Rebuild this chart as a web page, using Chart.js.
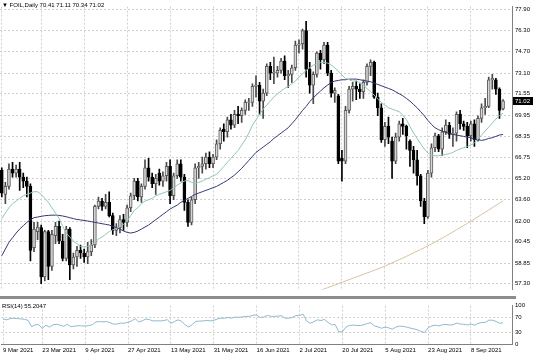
<!DOCTYPE html>
<html><head><meta charset="utf-8">
<script src="https://cdn.jsdelivr.net/npm/chart.js@4.4.0/dist/chart.umd.min.js"></script>
<style>
html,body{margin:0;padding:0;background:#fff;width:536px;height:357px;overflow:hidden;}
#wrap{position:relative;width:536px;height:357px;}
#main{position:absolute;left:0;top:0;}
#rsi{position:absolute;left:0;top:299px;}
#sep{position:absolute;left:0;top:296px;width:516px;height:3px;background:#8c8c8c;}
.t{position:absolute;font:6px "Liberation Sans",Arial,sans-serif;color:#000;white-space:nowrap;line-height:8px;}
</style></head><body>
<div id="wrap">
<canvas id="main" width="536" height="296" style="width:536px;height:296px"></canvas>
<div id="sep"></div>
<canvas id="rsi" width="536" height="58" style="width:536px;height:58px"></canvas>
<div class="t" id="title" style="left:2px;top:1px"></div>
<div class="t" id="rsiTitle" style="left:2px;top:302px"></div>
</div>
<script>
const symbol = 'FOIL,Daily';
const dates = ['8 Mar 2021','9 Mar 2021','10 Mar 2021','11 Mar 2021','12 Mar 2021','15 Mar 2021','16 Mar 2021','17 Mar 2021','18 Mar 2021','19 Mar 2021',
'22 Mar 2021','23 Mar 2021','24 Mar 2021','25 Mar 2021','26 Mar 2021','29 Mar 2021','30 Mar 2021','31 Mar 2021','1 Apr 2021','5 Apr 2021',
'6 Apr 2021','7 Apr 2021','8 Apr 2021','9 Apr 2021','12 Apr 2021','13 Apr 2021','14 Apr 2021','15 Apr 2021','16 Apr 2021','19 Apr 2021',
'20 Apr 2021','21 Apr 2021','22 Apr 2021','23 Apr 2021','26 Apr 2021','27 Apr 2021','28 Apr 2021','29 Apr 2021','30 Apr 2021','3 May 2021',
'4 May 2021','5 May 2021','6 May 2021','7 May 2021','10 May 2021','11 May 2021','12 May 2021','13 May 2021','14 May 2021','17 May 2021',
'18 May 2021','19 May 2021','20 May 2021','21 May 2021','24 May 2021','25 May 2021','26 May 2021','27 May 2021','28 May 2021','31 May 2021',
'1 Jun 2021','2 Jun 2021','3 Jun 2021','4 Jun 2021','7 Jun 2021','8 Jun 2021','9 Jun 2021','10 Jun 2021','11 Jun 2021','14 Jun 2021',
'15 Jun 2021','16 Jun 2021','17 Jun 2021','18 Jun 2021','21 Jun 2021','22 Jun 2021','23 Jun 2021','24 Jun 2021','25 Jun 2021','28 Jun 2021',
'29 Jun 2021','30 Jun 2021','1 Jul 2021','2 Jul 2021','5 Jul 2021','6 Jul 2021','7 Jul 2021','8 Jul 2021','9 Jul 2021','12 Jul 2021',
'13 Jul 2021','14 Jul 2021','15 Jul 2021','16 Jul 2021','19 Jul 2021','20 Jul 2021','21 Jul 2021','22 Jul 2021','23 Jul 2021','26 Jul 2021',
'27 Jul 2021','28 Jul 2021','29 Jul 2021','30 Jul 2021','2 Aug 2021','3 Aug 2021','4 Aug 2021','5 Aug 2021','6 Aug 2021','9 Aug 2021',
'10 Aug 2021','11 Aug 2021','12 Aug 2021','13 Aug 2021','16 Aug 2021','17 Aug 2021','18 Aug 2021','19 Aug 2021','20 Aug 2021','23 Aug 2021',
'24 Aug 2021','25 Aug 2021','26 Aug 2021','27 Aug 2021','30 Aug 2021','31 Aug 2021','1 Sep 2021','2 Sep 2021','3 Sep 2021','6 Sep 2021',
'7 Sep 2021','8 Sep 2021','9 Sep 2021','10 Sep 2021','13 Sep 2021','14 Sep 2021','15 Sep 2021','16 Sep 2021','17 Sep 2021','20 Sep 2021',
'21 Sep 2021'];
const emptySlots = ['', ''];

const open = [65.8,64.0,64.6,65.9,65.6,65.9,65.3,65.0,64.6,60.0,
61.2,61.5,57.8,61.2,58.6,60.9,61.6,60.5,59.2,61.4,
58.7,59.3,59.8,59.6,59.3,59.7,60.2,63.1,63.5,63.1,
63.4,62.4,61.3,61.5,62.1,61.9,63.0,63.9,65.0,63.8,
64.6,66.0,65.3,64.8,65.6,65.0,65.4,66.1,63.9,65.4,
66.3,65.3,63.4,61.9,63.6,66.0,66.1,66.3,66.8,66.3,
66.8,67.8,68.9,68.7,69.6,69.2,70.0,69.9,70.3,70.9,
70.9,72.1,72.2,71.0,71.6,73.6,73.1,73.1,73.3,74.0,
72.9,73.0,73.5,75.2,75.3,76.3,73.4,72.2,73.0,74.6,
74.1,75.2,73.1,71.6,71.4,66.7,66.5,70.3,71.9,72.1,
71.9,71.7,72.4,73.6,73.9,71.3,70.5,68.1,69.1,68.0,
66.5,68.3,69.3,69.1,68.0,67.3,66.6,65.4,63.5,62.3,
65.6,67.5,68.4,67.4,68.7,69.2,68.5,68.6,70.0,69.3,
69.1,68.4,69.3,68.1,69.7,70.5,70.6,72.6,72.6,71.9,
70.41];
const high = [66.0,64.9,66.3,66.4,66.2,66.4,65.6,65.3,64.8,61.9,
61.9,61.7,61.3,61.3,61.3,61.9,62.0,61.0,61.6,61.5,
59.6,60.1,60.2,59.9,60.4,60.6,63.2,63.8,63.7,64.0,
64.2,62.6,61.8,62.4,62.5,63.2,64.1,65.2,65.2,64.8,
66.6,66.7,65.6,65.5,65.9,65.7,66.4,66.6,65.6,66.6,
66.6,65.5,63.6,63.8,66.3,66.4,66.8,67.1,67.2,67.0,
68.1,69.0,69.3,69.8,70.0,70.3,70.6,70.5,71.1,71.2,
72.3,72.9,72.4,71.9,73.8,73.9,74.3,73.6,74.2,74.4,
73.3,73.7,75.5,75.6,76.4,76.98,73.9,73.2,74.7,74.8,
75.4,75.4,73.3,72.0,71.5,67.3,70.6,72.1,72.4,72.5,
72.3,72.6,73.8,74.1,74.0,71.6,70.8,69.4,69.8,68.3,
68.6,69.5,69.7,69.2,68.1,67.6,67.3,65.5,63.7,65.8,
67.8,68.6,68.5,69.0,69.6,69.4,69.0,70.2,70.3,69.5,
69.4,69.5,69.6,69.9,70.8,71.2,72.8,73.0,72.7,72.0,
71.11];
const low = [63.8,63.3,64.4,65.3,65.3,64.3,64.5,63.8,59.0,59.7,
60.6,57.3,57.5,57.6,58.3,60.3,60.3,59.0,59.0,57.6,
58.4,58.6,59.2,58.9,58.8,59.4,60.0,62.9,62.8,62.9,
62.3,61.0,60.9,61.1,61.3,61.6,62.7,63.6,63.5,63.4,
64.4,65.0,64.5,64.0,64.7,64.6,65.0,63.3,63.6,65.2,
65.0,62.8,61.6,61.7,63.3,65.2,65.6,65.9,66.0,66.0,
66.6,67.4,68.0,68.3,68.9,69.0,69.3,69.4,70.0,70.3,
70.6,71.3,70.0,69.7,71.4,72.6,72.3,72.8,73.1,72.6,
72.0,72.4,73.3,74.6,74.9,72.8,71.6,70.8,72.8,73.4,
73.8,72.9,71.3,70.9,66.3,65.0,66.3,70.1,71.0,71.1,
71.2,71.2,72.2,72.9,71.2,69.9,67.9,67.6,67.8,65.2,
66.3,68.0,68.5,67.4,66.1,65.6,64.7,63.1,61.8,62.2,
65.3,67.2,67.2,66.9,68.5,68.2,67.6,68.0,68.9,68.8,
67.5,68.0,67.6,68.0,69.4,70.0,70.5,71.9,71.5,69.7,
70.34];
const close = [64.1,64.6,65.9,65.6,65.9,65.3,65.0,64.6,59.8,61.4,
61.55,57.8,61.2,58.6,61.0,61.6,60.5,59.2,61.4,58.7,
59.3,59.8,59.6,59.3,59.7,60.2,63.1,63.5,63.1,63.4,
62.4,61.3,61.5,62.1,61.9,63.0,63.9,65.0,63.8,64.6,
66.0,65.3,64.8,65.2,65.0,65.4,66.1,63.9,65.4,66.3,
65.3,63.4,61.9,63.6,66.0,66.1,66.3,66.8,66.3,66.8,
67.8,68.8,68.7,69.6,69.2,70.0,69.9,70.3,70.9,70.95,
72.1,72.2,71.0,71.6,73.6,73.1,73.15,73.3,74.0,72.9,
73.0,73.5,75.2,75.3,76.3,73.4,72.2,73.0,74.6,74.1,
75.2,73.1,71.6,71.8,66.5,66.5,70.3,71.9,72.1,71.9,
71.7,72.4,73.6,73.9,71.3,70.5,68.1,69.1,68.3,66.5,
68.3,69.3,69.1,68.4,67.3,66.6,65.4,63.5,62.3,65.6,
67.5,68.4,67.4,68.7,69.2,68.5,68.6,70.0,69.3,69.1,
68.4,69.3,68.1,69.7,70.5,70.6,72.6,72.7,71.9,70.3,
71.02];

// fast moving average (light teal)
const maFast = [62.2,62.6,63.0,63.3,63.5,63.7,63.9,64.0,64.1,64.2,
64.2,64.0,63.7,63.4,63.0,62.6,62.2,61.6,61.1,60.8,
60.5,60.3,60.1,60.05,60.1,60.2,60.4,60.65,60.8,61.0,
61.2,61.35,61.45,61.55,61.75,62.0,62.4,62.8,63.0,63.3,
63.5,63.6,63.7,63.9,64.0,64.1,64.2,64.3,64.5,64.7,
64.85,65.0,65.05,64.9,64.8,64.9,65.0,65.15,65.25,65.4,
65.5,65.8,66.1,66.4,66.7,67.0,67.3,67.7,68.1,68.6,
69.2,69.6,70.0,70.4,70.7,71.0,71.3,71.55,71.75,71.95,
72.1,72.3,72.5,72.8,73.05,73.3,73.5,73.7,73.8,73.9,
73.9,73.85,73.7,73.5,73.25,72.95,72.7,72.6,72.5,72.5,
72.4,72.2,71.95,71.7,71.45,71.15,70.9,70.7,70.5,70.4,
70.3,70.2,69.95,69.6,69.1,68.6,68.2,67.8,67.4,67.1,
66.95,66.9,66.9,66.95,67.0,67.05,67.15,67.3,67.4,67.5,
67.6,67.7,67.85,68.15,68.45,68.75,69.05,69.35,69.65,69.9,
70.1];
// slow moving average (navy)
const maSlow = [59.4,59.9,60.4,60.75,61.1,61.4,61.65,61.9,62.1,62.25,
62.3,62.35,62.4,62.42,62.44,62.44,62.42,62.38,62.32,62.25,
62.18,62.12,62.08,62.04,62.0,61.95,61.9,61.85,61.8,61.75,
61.7,61.6,61.5,61.4,61.25,61.15,61.1,61.15,61.25,61.4,
61.55,61.7,61.9,62.1,62.3,62.5,62.7,62.9,63.05,63.2,
63.4,63.55,63.7,63.85,64.0,64.1,64.2,64.3,64.4,64.5,
64.6,64.75,64.9,65.05,65.25,65.45,65.7,65.95,66.25,66.55,
66.85,67.15,67.35,67.55,67.75,67.95,68.2,68.4,68.6,68.8,
69.0,69.3,69.6,69.95,70.3,70.6,70.95,71.25,71.5,71.75,
72.0,72.2,72.4,72.5,72.55,72.6,72.6,72.65,72.65,72.65,
72.6,72.55,72.5,72.45,72.35,72.25,72.15,72.05,71.95,71.85,
71.7,71.55,71.4,71.2,71.0,70.75,70.5,70.2,69.9,69.55,
69.25,69.0,68.85,68.75,68.65,68.6,68.5,68.45,68.4,68.35,
68.3,68.25,68.15,68.1,68.05,68.1,68.2,68.25,68.35,68.45,
68.5];
// long moving average (tan); only visible in the lower right
const maLong = [null,null,null,null,null,null,null,null,null,null,
null,null,null,null,null,null,null,null,null,null,
null,null,null,null,null,null,null,null,null,null,
null,null,null,null,null,null,null,null,null,null,
null,null,null,null,null,null,null,null,null,null,
null,null,null,null,null,null,null,null,null,null,
null,null,null,null,null,null,null,null,null,null,
null,null,null,null,null,null,null,null,null,null,
null,null,null,null,null,null,null,null,56.7,56.8,
56.9,57.0,57.1,57.2,57.3,57.4,57.5,57.6,57.7,57.8,
57.9,58.0,58.1,58.2,58.3,58.4,58.5,58.62,58.74,58.86,
58.98,59.1,59.22,59.35,59.48,59.61,59.74,59.87,60.0,60.14,
60.28,60.42,60.57,60.72,60.87,61.02,61.18,61.34,61.5,61.66,
61.82,61.98,62.15,62.32,62.49,62.66,62.83,63.0,63.17,63.34,
63.52];
const rsi = [65,63,66,67,66,65.5,64,62,45,50,
50.5,40,49,44,50,51.5,49,46,51.5,45,
46.5,47.5,47.3,46.8,48,50,57.5,58.3,57.5,58.5,
55.5,51.5,52.2,54.5,54,57,60,66,57.5,60.5,
65,63.5,60,60.5,60,60.8,63.5,54,58.5,63,
59,50,44,51,59,59.5,60,61.5,60,61.5,
65,67.5,67,69,67.5,70,69.5,70.5,72,72,
75,75.5,69,70.5,74.5,72,72,72.5,74,67,
67.5,69,74,74,78,60,54,58,63,61,
64,56,50,50.5,32,31.5,44,48.5,49,48.5,
48,50,53.5,55,47,44.5,41,44,42,38.5,
44,46.5,46,44,41.5,39.5,37,33,30,42,
47,49,47,50,51,49.5,50,54.5,52,51.5,
49.5,52,49,53.5,56,56,62,62,59,54,
55.2047];

const priceTicks = [77.90,76.30,74.70,73.10,71.55,69.95,68.35,66.75,65.20,63.60,62.00,60.45,58.85,57.30];
const priceMin = 56.87, priceMax = 78.09;
const rsiTicks = [0,30,70,100];
const rsiLevels = [30,70];
const tickPos = [0,11,23,35,47,59,71,83,95,107,119,131];
const tickText = ['9 Mar 2021','23 Mar 2021','9 Apr 2021','27 Apr 2021','13 May 2021','31 May 2021','16 Jun 2021','2 Jul 2021','20 Jul 2021','5 Aug 2021','23 Aug 2021','8 Sep 2021'];

const FONT = {family:'"Liberation Sans", Arial, sans-serif', size:6};
const GRID = '#cfcfcf';
const AXIS_W = 24;
const labels = dates.concat(emptySlots);
const last = close.length - 1;
const isUp = open.map((o,i)=>close[i]>=o);

document.getElementById('title').textContent = '\u25BC ' + symbol + ' ' + [open[last],high[last],low[last],close[last]].map(v=>v.toFixed(2)).join(' ');
document.getElementById('rsiTitle').textContent = 'RSI(14) ' + rsi[last].toFixed(4);

const xGridColor = ctx => tickPos.includes(ctx.index) ? GRID : 'rgba(0,0,0,0)';

const priceBox = {
  id:'priceBox',
  afterDraw(chart){
    const y = chart.scales.y.getPixelForValue(close[last]);
    const c = chart.ctx;
    c.save();
    c.fillStyle = '#000';
    c.fillRect(chart.chartArea.right + 1, Math.round(y) - 4, 20, 8);
    c.fillStyle = '#fff';
    c.font = '6px "Liberation Sans", Arial, sans-serif';
    c.textBaseline = 'middle';
    c.fillText(close[last].toFixed(2), chart.chartArea.right + 3, Math.round(y));
    c.restore();
  }
};

new Chart(document.getElementById('main'), {
  type:'bar',
  data:{
    labels,
    datasets:[
      {type:'line', label:'MA fast', data:maFast, borderColor:'#92c4b8', borderWidth:1, pointRadius:0, order:0},
      {type:'line', label:'MA slow', data:maSlow, borderColor:'#34386e', borderWidth:1, pointRadius:0, order:0},
      {type:'line', label:'MA long', data:maLong, borderColor:'#d9c0a0', borderWidth:1, pointRadius:0, order:0},
      {label:'body', data:open.map((o,i)=>[o,close[i]]), grouped:false, barThickness:3,
        backgroundColor:isUp.map(u=>u ? '#d6d6d6' : '#000'),
        borderColor:isUp.map(u=>u ? '#5a5a5a' : '#000'), borderWidth:1, borderSkipped:false, order:1},
      {label:'wick', data:low.map((l,i)=>[l,high[i]]), grouped:false, barThickness:1,
        backgroundColor:isUp.map(u=>u ? '#4a4a4a' : '#000'), borderWidth:0, order:2}
    ]
  },
  options:{
    responsive:false, animation:false, events:[],
    layout:{padding:0},
    plugins:{legend:{display:false}, tooltip:{enabled:false}},
    scales:{
      x:{type:'category', offset:true,
        grid:{offset:false, color:xGridColor, drawTicks:false, lineWidth:1},
        border:{display:false, dash:[2,2]},
        ticks:{display:false, autoSkip:false},
        afterFit:s=>{s.height=0;}},
      y:{position:'right', min:priceMin, max:priceMax,
        afterBuildTicks:s=>{s.ticks = priceTicks.map(v=>({value:v}));},
        grid:{color:GRID, drawTicks:false},
        border:{display:true, color:'#808080', dash:[2,2]},
        ticks:{font:FONT, color:'#000', padding:3, autoSkip:false, callback:v=>v.toFixed(2)},
        afterFit:s=>{s.width=AXIS_W;}}
    }
  },
  plugins:[priceBox]
});

new Chart(document.getElementById('rsi'), {
  type:'line',
  data:{labels, datasets:[{label:'RSI(14)', data:rsi, borderColor:'#8fb9cf', borderWidth:1, pointRadius:0}]},
  options:{
    responsive:false, animation:false, events:[],
    layout:{padding:{top:4}},
    plugins:{legend:{display:false}, tooltip:{enabled:false}},
    scales:{
      x:{type:'category', offset:true,
        grid:{offset:false, color:xGridColor, drawTicks:false},
        border:{display:true, color:'#808080', dash:[2,2]},
        ticks:{autoSkip:false, maxRotation:0, minRotation:0, align:'start', font:FONT, color:'#000', padding:3,
          callback:(v,i)=>{const k=tickPos.indexOf(i); return k>=0 ? tickText[k] : '';}},
        afterFit:s=>{s.height=13;}},
      y:{position:'right', min:0, max:100,
        afterBuildTicks:s=>{s.ticks = rsiTicks.map(v=>({value:v}));},
        grid:{color:ctx=>rsiLevels.includes(ctx.tick && ctx.tick.value) ? GRID : 'rgba(0,0,0,0)', drawTicks:false},
        border:{display:true, color:'#808080', dash:[2,2]},
        ticks:{font:FONT, color:'#000', padding:3, autoSkip:false},
        afterFit:s=>{s.width=AXIS_W;}}
    }
  }
});
</script>
</body></html>
